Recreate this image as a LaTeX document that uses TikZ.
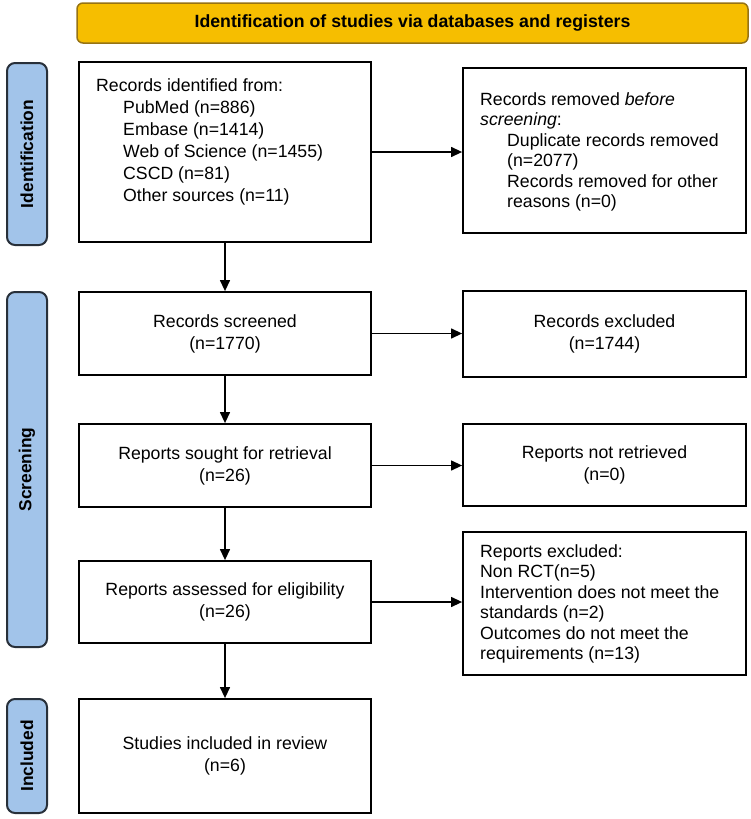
\documentclass[tikz,border=0pt]{standalone}
\usepackage{fontspec}
\setmainfont{Liberation Sans}
\usetikzlibrary{arrows.meta}
\definecolor{hdrfill}{RGB}{246,190,0}
\definecolor{hdrdraw}{RGB}{150,115,20}
\definecolor{sidefill}{RGB}{162,196,234}
\definecolor{sidedraw}{RGB}{40,48,58}
\begin{document}
\begin{tikzpicture}[x=1pt,y=-1pt,
  flowbox/.style={draw=black, line width=1.8pt, inner sep=0pt, align=center,
    font=\fontsize{17.7}{22}\selectfont},
  sidebox/.style={draw=sidedraw, fill=sidefill, line width=2pt, rounded corners=8pt,
    rotate=90, inner sep=0pt, minimum height=40pt,
    font=\bfseries\fontsize{17.4}{20}\selectfont},
  hdrbox/.style={draw=hdrdraw, fill=hdrfill, line width=1.5pt, rounded corners=6pt,
    inner sep=0pt, font=\bfseries\fontsize{17.7}{22}\selectfont},
  txt/.style={inner sep=0pt, align=left, anchor=north west,
    font=\fontsize{17.7}{20.5}\selectfont},
  flowarrow/.style={draw=black, line width=1.3pt, -{Triangle[length=11pt,width=10pt]}}
]
\useasboundingbox (0,0) rectangle (750,819);

% header
\node[hdrbox, minimum width=671pt, minimum height=40pt] (hdr) at (412.5,23)
  {Identification of studies via databases and registers};

% side labels
\node[sidebox, minimum width=182pt] (sidid) at (27,154) {Identification};
\node[sidebox, minimum width=355pt] (sidsc) at (27,469.5) {Screening};
\node[sidebox, minimum width=114pt] (sidin) at (27,756) {Included};

% left column
\node[flowbox, minimum width=292pt, minimum height=180pt] (ident) at (225,152) {};
\node[txt, font=\fontsize{17.7}{22}\selectfont] (identtxt) at (96,78)
  {Records identified from:\\
   \hspace*{27pt}PubMed (n=886)\\
   \hspace*{27pt}Embase (n=1414)\\
   \hspace*{27pt}Web of Science (n=1455)\\
   \hspace*{27pt}CSCD (n=81)\\
   \hspace*{27pt}Other sources (n=11)};
\node[flowbox, minimum width=292pt, minimum height=83pt] (screened) at (225,333.5)
  {Records screened\\(n=1770)};
\node[flowbox, minimum width=292pt, minimum height=83pt] (sought) at (225,465.5)
  {Reports sought for retrieval\\(n=26)};
\node[flowbox, minimum width=292pt, minimum height=82pt] (assessed) at (225,602)
  {Reports assessed for eligibility\\(n=26)};
\node[flowbox, minimum width=292pt, minimum height=114pt] (included) at (225,756)
  {Studies included in review\\(n=6)};

% right column
\node[flowbox, minimum width=283pt, minimum height=165pt] (removed) at (604.5,150.5) {};
\node[txt] (removedtxt) at (480,92)
  {Records removed \textit{before}\\
   \textit{screening}:\\
   \hspace*{27pt}Duplicate records removed\\
   \hspace*{27pt}(n=2077)\\
   \hspace*{27pt}Records removed for other\\
   \hspace*{27pt}reasons (n=0)};
\node[flowbox, minimum width=283pt, minimum height=86pt] (excluded) at (604.5,334)
  {Records excluded\\(n=1744)};
\node[flowbox, minimum width=283pt, minimum height=82pt] (notretr) at (604.5,465)
  {Reports not retrieved\\(n=0)};
\node[flowbox, minimum width=283pt, minimum height=143pt] (repexcl) at (604.5,603.5) {};
\node[txt] (repexcltxt) at (480,544)
  {Reports excluded:\\
   Non RCT(n=5)\\
   Intervention does not meet the\\
   standards (n=2)\\
   Outcomes do not meet the\\
   requirements (n=13)};

% arrows
\draw[flowarrow] (ident.east) -- (ident.east -| removed.west);
\draw[flowarrow] (screened.east) -- (screened.east -| excluded.west);
\draw[flowarrow] (sought.east) -- (sought.east -| notretr.west);
\draw[flowarrow] (assessed.east) -- (assessed.east -| repexcl.west);
\draw[flowarrow] (ident.south) -- (screened.north);
\draw[flowarrow] (screened.south) -- (sought.north);
\draw[flowarrow] (sought.south) -- (assessed.north);
\draw[flowarrow] (assessed.south) -- (included.north);
\end{tikzpicture}
\end{document}
